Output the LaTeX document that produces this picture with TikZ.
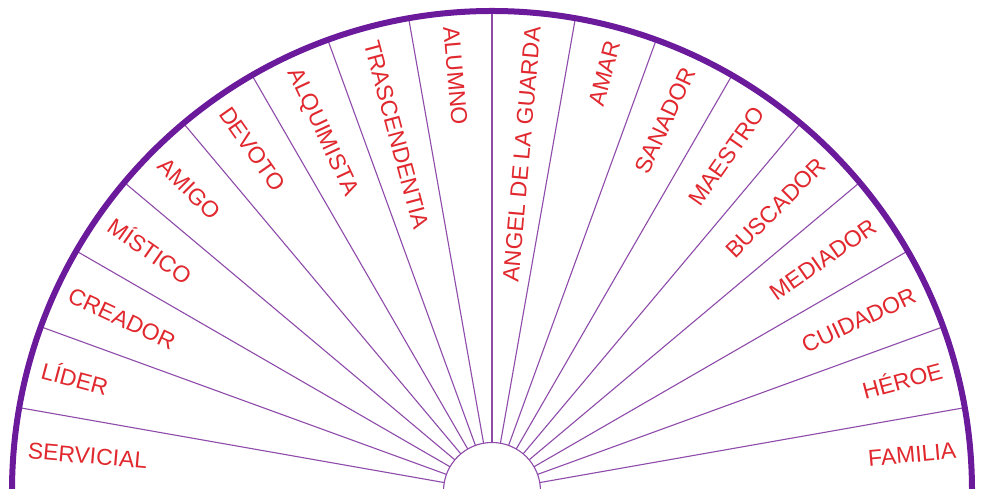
\documentclass[tikz,border=0pt]{standalone}
\usepackage{fontspec}
\setmainfont{Liberation Sans}
\definecolor{ring}{HTML}{6A1A9A}
\definecolor{spoke}{HTML}{8E4BAA}
\definecolor{lbl}{HTML}{E0282E}
\begin{document}
\begin{tikzpicture}[x=1pt,y=1pt,
  spokeline/.style={draw=spoke,line width=1.1pt},
  rimline/.style={draw=ring,line width=6pt},
  lbltext/.style={text=lbl,font=\fontsize{23}{24}\selectfont,inner sep=0pt,text height=16.4pt,text depth=0pt}]
\useasboundingbox (0,0) rectangle (982,489);
\fill[white] (0,0) rectangle (982,489);
\clip (0,0) rectangle (982,489);
\coordinate (O) at (492,-2);
\foreach \a in {10,20,...,170}
  \draw[spokeline] ([shift={(\a:48.5)}]O) -- ([shift={(\a:480)}]O);
\draw[spokeline] (O) circle (48.5);
\draw[rimline] (O) circle (480);
\foreach \t [count=\i from 0] in {FAMILIA,HÉROE,CUIDADOR,MEDIADOR,BUSCADOR,MAESTRO,SANADOR,AMAR,ANGEL DE LA GUARDA,ALUMNO,TRASCENDENTIA,ALQUIMISTA,DEVOTO,AMIGO,MÍSTICO,CREADOR,LÍDER,SERVICIAL}{
  \pgfmathsetmacro\ang{5+10*\i}
  \ifnum\i<9
    \node[lbltext,rotate=\ang,anchor=east] (L\i) at ([shift={(\ang:466)}]O) {\t};
  \else
    \node[lbltext,rotate=\ang-180,anchor=west] (L\i) at ([shift={(\ang:466)}]O) {\t};
  \fi
}
\end{tikzpicture}
\end{document}
